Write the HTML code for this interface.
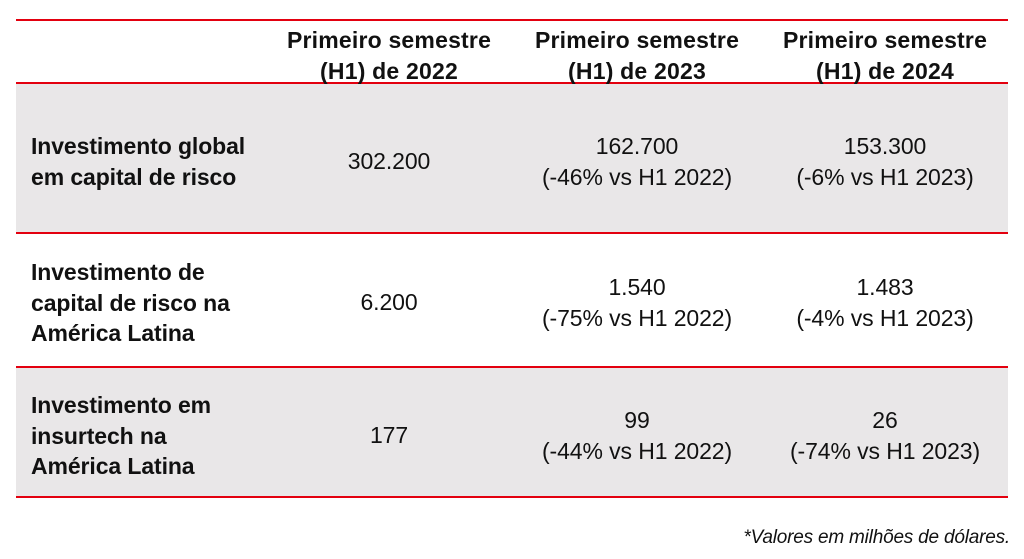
<!DOCTYPE html>
<html><head><meta charset="utf-8"><style>
body{margin:0;width:1024px;height:559px;background:#fff;position:relative;overflow:hidden;font-family:"Liberation Sans",sans-serif;color:#111}
.l{position:absolute;left:16px;width:992px;height:2px;background:#e3000f}
.g{position:absolute;left:16px;width:992px;background:#e9e7e8}
.t{position:absolute;line-height:30.5px;font-size:23px;white-space:nowrap}
.h{font-weight:bold;text-align:center;width:240px;letter-spacing:0.2px}
.lab{font-weight:bold;left:31px;letter-spacing:-0.1px}
.v{text-align:center;width:240px;font-weight:normal;letter-spacing:-0.1px}
</style></head><body>
<div class="g" style="top:84px;height:149px"></div>
<div class="g" style="top:368px;height:129px"></div>
<div class="l" style="top:19px"></div>
<div class="l" style="top:82px"></div>
<div class="l" style="top:232px"></div>
<div class="l" style="top:366px"></div>
<div class="l" style="top:496px"></div>

<div class="t h" style="left:269px;top:25px">Primeiro semestre<br>(H1) de 2022</div>
<div class="t h" style="left:517px;top:25px">Primeiro semestre<br>(H1) de 2023</div>
<div class="t h" style="left:765px;top:25px">Primeiro semestre<br>(H1) de 2024</div>

<div class="t lab" style="top:131px">Investimento global<br>em capital de risco</div>
<div class="t v" style="left:269px;top:146px">302.200</div>
<div class="t v" style="left:517px;top:131px">162.700<br>(-46% vs H1 2022)</div>
<div class="t v" style="left:765px;top:131px">153.300<br>(-6% vs H1 2023)</div>

<div class="t lab" style="top:257px">Investimento de<br>capital de risco na<br>América Latina</div>
<div class="t v" style="left:269px;top:287px">6.200</div>
<div class="t v" style="left:517px;top:272px">1.540<br>(-75% vs H1 2022)</div>
<div class="t v" style="left:765px;top:272px">1.483<br>(-4% vs H1 2023)</div>

<div class="t lab" style="top:390px">Investimento em<br>insurtech na<br>América Latina</div>
<div class="t v" style="left:269px;top:420px">177</div>
<div class="t v" style="left:517px;top:405px">99<br>(-44% vs H1 2022)</div>
<div class="t v" style="left:765px;top:405px">26<br>(-74% vs H1 2023)</div>

<div class="t" style="right:14px;top:523px;font-size:19px;font-style:italic;letter-spacing:-0.2px">*Valores em milhões de dólares.</div>
</body></html>
